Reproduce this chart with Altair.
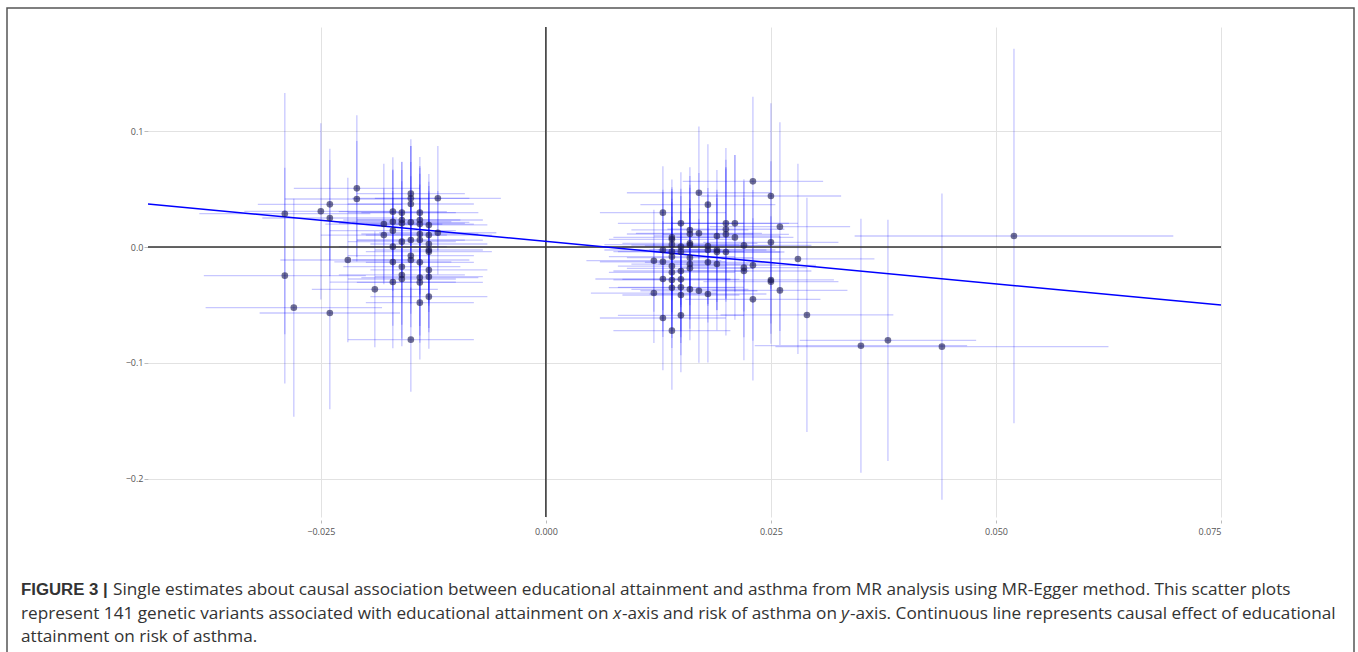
import altair as alt
import pandas as pd

# ---------------- data ----------------
# SNP-exposure effect (x), SNP-outcome effect (y) and half-widths of their error bars
bx = [
    -0.0290, -0.0290, -0.0280, -0.0250, -0.0240, -0.0240, -0.0240, -0.0220, -0.0210, -0.0210,
    -0.0190, -0.0180, -0.0180, -0.0170, -0.0170, -0.0170, -0.0170, -0.0170, -0.0170, -0.0160,
    -0.0160, -0.0160, -0.0160, -0.0160, -0.0160, -0.0160, -0.0150, -0.0150, -0.0150, -0.0150,
    -0.0150, -0.0150, -0.0150, -0.0150, -0.0140, -0.0140, -0.0140, -0.0140, -0.0140, -0.0140,
    -0.0140, -0.0140, -0.0140, -0.0130, -0.0130, -0.0130, -0.0130, -0.0130, -0.0130, -0.0130,
    -0.0130, -0.0120, -0.0120,
    0.0130, 0.0120, 0.0120, 0.0130, 0.0130, 0.0130, 0.0130, 0.0140, 0.0140, 0.0140,
    0.0140, 0.0140, 0.0140, 0.0140, 0.0140, 0.0140, 0.0140, 0.0150, 0.0150, 0.0150,
    0.0150, 0.0150, 0.0150, 0.0150, 0.0150, 0.0160, 0.0160, 0.0160, 0.0160, 0.0160,
    0.0160, 0.0160, 0.0160, 0.0170, 0.0170, 0.0170, 0.0180, 0.0180, 0.0180, 0.0180,
    0.0180, 0.0190, 0.0190, 0.0190, 0.0190, 0.0200, 0.0200, 0.0200, 0.0200, 0.0210,
    0.0210, 0.0220, 0.0220, 0.0220, 0.0230, 0.0230, 0.0230, 0.0250, 0.0250, 0.0250,
    0.0250, 0.0260, 0.0260, 0.0280, 0.0290,
    0.0350, 0.0380, 0.0440, 0.0520,
]
by = [
    0.0287, -0.0247, -0.0523, 0.0308, 0.0368, 0.0250, -0.0569, -0.0112, 0.0506, 0.0414,
    -0.0365, 0.0198, 0.0103, 0.0305, 0.0218, 0.0141, 0.0003, -0.0129, -0.0302, 0.0296,
    0.0233, 0.0204, 0.0046, -0.0170, -0.0241, -0.0276, 0.0460, 0.0420, 0.0371, 0.0213,
    0.0060, -0.0075, -0.0112, -0.0799, 0.0296, 0.0233, 0.0198, 0.0112, 0.0060, -0.0132,
    -0.0264, -0.0305, -0.0480, 0.0190, 0.0103, 0.0026, -0.0026, -0.0040, -0.0198, -0.0256,
    -0.0428, 0.0420, 0.0123,
    0.0296, -0.0118, -0.0397, -0.0026, -0.0127, -0.0276, -0.0612, 0.0083, 0.0066, 0.0020,
    -0.0040, -0.0083, -0.0164, -0.0218, -0.0284, -0.0351, -0.0721, 0.0204, 0.0003, -0.0040,
    -0.0207, -0.0279, -0.0348, -0.0414, -0.0589, 0.0147, 0.0112, 0.0032, 0.0017, -0.0092,
    -0.0147, -0.0184, -0.0365, 0.0468, 0.0118, -0.0377, 0.0365, 0.0009, -0.0026, -0.0132,
    -0.0405, 0.0095, -0.0026, -0.0043, -0.0147, 0.0204, 0.0153, 0.0109, -0.0043, 0.0204,
    0.0083, 0.0014, -0.0178, -0.0207, 0.0566, -0.0158, -0.0451, 0.0440, 0.0040, -0.0284,
    -0.0299, 0.0175, -0.0374, -0.0103, -0.0586,
    -0.0851, -0.0805, -0.0859, 0.0095,
]
sx = [
    0.0095, 0.0090, 0.0098, 0.0085, 0.0080, 0.0075, 0.0078, 0.0075, 0.0070, 0.0080,
    0.0070, 0.0065, 0.0070, 0.0060, 0.0065, 0.0070, 0.0060, 0.0065, 0.0070, 0.0060,
    0.0065, 0.0070, 0.0060, 0.0065, 0.0070, 0.0060, 0.0060, 0.0065, 0.0070, 0.0065,
    0.0060, 0.0070, 0.0065, 0.0070, 0.0065, 0.0070, 0.0060, 0.0065, 0.0070, 0.0060,
    0.0065, 0.0070, 0.0060, 0.0065, 0.0070, 0.0065, 0.0060, 0.0070, 0.0065, 0.0060,
    0.0065, 0.0070, 0.0065,
    0.0070, 0.0075, 0.0070, 0.0065, 0.0070, 0.0075, 0.0070, 0.0065, 0.0070, 0.0075,
    0.0065, 0.0070, 0.0060, 0.0070, 0.0065, 0.0070, 0.0065, 0.0070, 0.0065, 0.0070,
    0.0075, 0.0065, 0.0070, 0.0065, 0.0070, 0.0065, 0.0070, 0.0075, 0.0065, 0.0070,
    0.0065, 0.0070, 0.0065, 0.0080, 0.0070, 0.0065, 0.0075, 0.0070, 0.0065, 0.0070,
    0.0065, 0.0070, 0.0065, 0.0070, 0.0065, 0.0070, 0.0065, 0.0070, 0.0065, 0.0070,
    0.0065, 0.0075, 0.0070, 0.0075, 0.0078, 0.0070, 0.0075, 0.0078, 0.0075, 0.0070,
    0.0075, 0.0078, 0.0075, 0.0085, 0.0096,
    0.0118, 0.0098, 0.0185, 0.0177,
]
sy = [
    0.104, 0.093, 0.094, 0.076, 0.048, 0.050, 0.083, 0.071, 0.063, 0.050,
    0.050, 0.052, 0.040, 0.047, 0.045, 0.052, 0.048, 0.055, 0.057, 0.044,
    0.050, 0.046, 0.052, 0.050, 0.055, 0.058, 0.047, 0.045, 0.050, 0.052,
    0.055, 0.050, 0.058, 0.045, 0.048, 0.045, 0.050, 0.052, 0.048, 0.055,
    0.050, 0.052, 0.049, 0.044, 0.046, 0.050, 0.048, 0.052, 0.050, 0.048,
    0.045, 0.045, 0.036,
    0.040, 0.044, 0.043, 0.052, 0.060, 0.050, 0.045, 0.050, 0.045, 0.048,
    0.052, 0.050, 0.055, 0.048, 0.050, 0.052, 0.051, 0.044, 0.050, 0.048,
    0.052, 0.050, 0.048, 0.052, 0.049, 0.054, 0.050, 0.048, 0.052, 0.050,
    0.048, 0.052, 0.044, 0.057, 0.052, 0.062, 0.052, 0.050, 0.048, 0.052,
    0.059, 0.057, 0.052, 0.050, 0.057, 0.065, 0.060, 0.058, 0.072, 0.059,
    0.071, 0.057, 0.060, 0.077, 0.073, 0.065, 0.070, 0.080, 0.070, 0.055,
    0.045, 0.090, 0.047, 0.082, 0.101,
    0.1095, 0.104, 0.132, 0.1615,
]

# MR-Egger fitted line (end points read at the plot edges)
line_x = [-0.0442, 0.075]
line_y = [0.0371, -0.0500]

x_ticks = [-0.025, 0.0, 0.025, 0.050, 0.075]
y_ticks = [-0.2, -0.1, 0.0, 0.1]

caption_bold = "FIGURE 3 |"
caption_l1 = ("Single estimates about causal association between educational attainment and asthma "
              "from MR analysis using MR-Egger method. This scatter plots")
caption_l2a = "represent 141 genetic variants associated with educational attainment on"
caption_l2x = "x"
caption_l2b = "-axis and risk of asthma on"
caption_l2y = "y"
caption_l2c = "-axis. Continuous line represents causal effect of educational"
caption_l3 = "attainment on risk of asthma."

# ---------------- chart ----------------
OX, OY = 148, 27           # plot-area origin on the page
W, H = 1073, 490
X_DOMAIN = [-0.0442, 0.075]
Y_DOMAIN = [-0.2328, 0.1897]

df = pd.DataFrame({"bx": bx, "by": by, "sx": sx, "sy": sy})
df["xlo"] = df["bx"] - df["sx"]
df["xhi"] = df["bx"] + df["sx"]
df["ylo"] = df["by"] - df["sy"]
df["yhi"] = df["by"] + df["sy"]

xs = alt.Scale(domain=X_DOMAIN, nice=False, zero=False)
ys = alt.Scale(domain=Y_DOMAIN, nice=False, zero=False)

xaxis = alt.Axis(values=x_ticks, format=".3f", title=None, grid=True, gridColor="#e2e2e2",
                 gridWidth=1, domain=False, ticks=True, tickColor="#bbbbbb", tickSize=3,
                 offset=3, labelFontSize=9, labelColor="#555555", labelFont="Open Sans",
                 labelPadding=4)
yaxis = alt.Axis(values=y_ticks, format=".1f", title=None, grid=True, gridColor="#e2e2e2",
                 gridWidth=1, domain=False, ticks=True, tickColor="#bbbbbb", tickSize=4,
                 labelFontSize=9, labelColor="#555555", labelFont="Open Sans", labelPadding=1)

base = alt.Chart(df)

axes_layer = base.mark_point(opacity=0).encode(
    x=alt.X("bx:Q", scale=xs, axis=xaxis),
    y=alt.Y("by:Q", scale=ys, axis=yaxis),
)

zero_df = pd.DataFrame({"z": [0.0]})
vzero = alt.Chart(zero_df).mark_rule(color="#333333", strokeWidth=1.5).encode(
    x=alt.X("z:Q", scale=xs))
hzero = alt.Chart(zero_df).mark_rule(color="#333333", strokeWidth=1.5).encode(
    y=alt.Y("z:Q", scale=ys))

xerr = base.mark_rule(color="#0000ff", opacity=0.22, strokeWidth=1.3).encode(
    x=alt.X("xlo:Q", scale=xs), x2="xhi:Q", y=alt.Y("by:Q", scale=ys))
yerr = base.mark_rule(color="#0000ff", opacity=0.22, strokeWidth=1.3).encode(
    y=alt.Y("ylo:Q", scale=ys), y2="yhi:Q", x=alt.X("bx:Q", scale=xs))

pts = base.mark_circle(size=44, color="#1a1a50", opacity=0.62).encode(
    x=alt.X("bx:Q", scale=xs), y=alt.Y("by:Q", scale=ys))

line_df = pd.DataFrame({"lx": line_x, "ly": line_y})
reg = alt.Chart(line_df).mark_line(color="#0000ff", strokeWidth=1.5).encode(
    x=alt.X("lx:Q", scale=xs), y=alt.Y("ly:Q", scale=ys))

one = pd.DataFrame({"a": [0]})
frame = alt.Chart(one).mark_rect(fill="transparent", stroke="#555555", strokeWidth=1.5).encode(
    x=alt.value(7 - OX), x2=alt.value(1354 - OX), y=alt.value(8 - OY), y2=alt.value(700 - OY))

FS = 17.2


def txt(s, px, py, bold=False, italic=False, font="Open Sans", size=FS):
    kw = dict(align="left", baseline="alphabetic", font=font, fontSize=size,
              color="#333333")
    if bold:
        kw["fontWeight"] = "bold"
    if italic:
        kw["fontStyle"] = "italic"
    return alt.Chart(one).mark_text(**kw).encode(
        x=alt.value(px - OX), y=alt.value(py - OY), text=alt.value(s))


L1, L2, L3 = 595, 618.5, 642
captions = [
    txt(caption_bold, 21, L1, bold=True, font="Liberation Sans", size=16.8),
    txt(caption_l1, 113, L1),
    txt(caption_l2a, 21, L2),
    txt(caption_l2x, 613, L2, italic=True),
    txt(caption_l2b, 622, L2),
    txt(caption_l2y, 841, L2, italic=True),
    txt(caption_l2c, 850, L2),
    txt(caption_l3, 21, L3),
]

chart = alt.layer(axes_layer, xerr, yerr, vzero, hzero, reg, pts, frame, *captions).properties(
    width=W, height=H,
    padding={"left": OX, "top": OY, "right": 1358 - OX - W, "bottom": 652 - OY - H},
    autosize="none",
).configure_view(stroke=None)

chart.save("out.html", embed_options={"renderer": "svg", "actions": False})
